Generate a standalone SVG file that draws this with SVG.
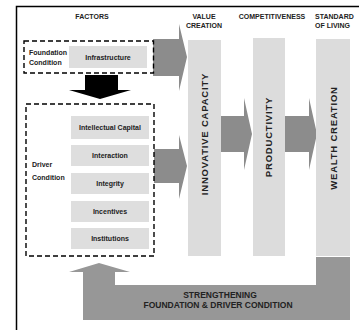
<svg xmlns="http://www.w3.org/2000/svg" width="359" height="330" viewBox="0 0 359 330">
<style>
  text { font-family: "Liberation Sans", Arial, sans-serif; font-weight: bold; fill: #222; }
  .hdr { font-size: 7px; }
  .sub { font-size: 7px; text-anchor: middle; }
  .lbl { font-size: 7px; }
  .col { fill: #dcdcdc; }
  .box { fill: #dedede; }
  .dash { fill: none; stroke: #000; stroke-width: 1.4; stroke-dasharray: 5 3; }
  .vert { font-size: 9.5px; letter-spacing: 0.8px; text-anchor: middle; }
  .arr { fill: #8c8c8c; }
  .fb { fill: #979797; }
</style>
<rect width="359" height="330" fill="#fff"/>
<g id="frame">
  <polyline points="16.5,330 16.5,6.5 359,6.5" fill="none" stroke="#000" stroke-width="1.5"/>
</g>
<g id="headers" class="hdr">
  <text x="92" y="19" text-anchor="middle">FACTORS</text>
  <text x="204" y="18.5" text-anchor="middle">VALUE</text>
  <text x="204" y="28" text-anchor="middle">CREATION</text>
  <text x="272" y="18.5" text-anchor="middle">COMPETITIVENESS</text>
  <text x="315" y="18.5">STANDARD</text>
  <text x="315" y="28">OF LIVING</text>
</g>
<g id="connectors">
  <polygon class="arr" points="153,39 179,39 179,24 187,57 179,91 179,76 153,76"/>
  <polygon class="arr" points="154,149 179,149 179,135 187,166 179,199 179,183 154,183"/>
  <polygon class="arr" points="221,116 244,116 244,98 252,134 244,170 244,152 221,152"/>
  <polygon class="arr" points="285,116 309,116 309,98 317,134 309,170 309,152 285,152"/>
  <polygon fill="#000" points="85,75 118,75 118,90 131,90 100,99 69,90 85,90"/>
  <polygon class="fb" points="83,320 350,320 350,257 316,257 316,285 115,285 115,272 130,272 99,263 69,272 83,272"/>
  <text x="220" y="297.5" text-anchor="middle" style="font-size:8.5px">STRENGTHENING</text>
  <text x="218" y="307.5" text-anchor="middle" style="font-size:8.5px">FOUNDATION &amp; DRIVER CONDITION</text>
</g>
<g id="foundation">
  <rect class="dash" x="24" y="41" width="129.5" height="32"/>
  <text class="lbl" x="29" y="55">Foundation</text>
  <text class="lbl" x="29" y="64.5">Condition</text>
</g>
<g id="infrastructure">
  <rect class="box" x="69" y="46" width="78" height="22"/>
  <text class="sub" x="108" y="59.5">Infrastructure</text>
</g>
<g id="driver">
  <rect class="dash" x="26" y="104" width="128" height="152"/>
  <text class="lbl" x="32" y="166.5">Driver</text>
  <text class="lbl" x="32" y="180">Condition</text>
</g>
<g id="intellectual-capital">
  <rect class="box" x="71" y="116" width="78" height="23"/>
  <text class="sub" x="110" y="130">Intellectual Capital</text>
</g>
<g id="interaction">
  <rect class="box" x="71" y="145" width="78" height="21"/>
  <text class="sub" x="110" y="158">Interaction</text>
</g>
<g id="integrity">
  <rect class="box" x="71" y="173" width="78" height="21"/>
  <text class="sub" x="110" y="186">Integrity</text>
</g>
<g id="incentives">
  <rect class="box" x="71" y="201" width="78" height="21"/>
  <text class="sub" x="110" y="214">Incentives</text>
</g>
<g id="institutions">
  <rect class="box" x="71" y="228" width="78" height="21"/>
  <text class="sub" x="110" y="241">Institutions</text>
</g>
<g id="innovative-capacity">
  <rect class="col" x="188" y="40" width="33" height="216"/>
  <text class="vert" transform="translate(207.5,134) rotate(-90)">INNOVATIVE CAPACITY</text>
</g>
<g id="productivity">
  <rect class="col" x="253" y="38" width="32" height="218"/>
  <text class="vert" transform="translate(271.5,137) rotate(-90)">PRODUCTIVITY</text>
</g>
<g id="wealth-creation">
  <rect class="col" x="316" y="39" width="34" height="217"/>
  <text class="vert" transform="translate(337,138) rotate(-90)">WEALTH CREATION</text>
</g>
</svg>
